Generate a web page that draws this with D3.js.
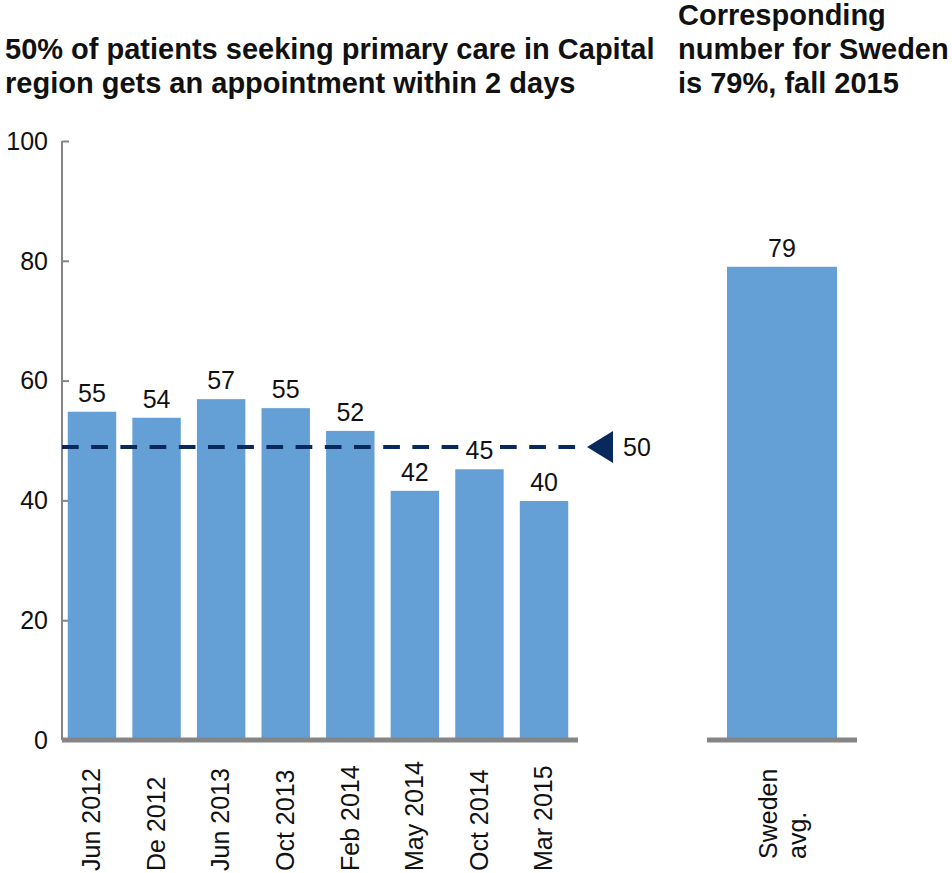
<!DOCTYPE html>
<html>
<head>
<meta charset="utf-8">
<script src="https://cdn.jsdelivr.net/npm/d3@7"></script>
<style>
  body { margin: 0; background: #fff; }
  svg { display: block; font-family: "Liberation Sans", Arial, sans-serif; }
</style>
</head>
<body>
<svg id="viz"></svg>
<script>
// data
const periods = ["Jun 2012", "De 2012", "Jun 2013", "Oct 2013", "Feb 2014", "May 2014", "Oct 2014", "Mar 2015"]
const capitalValues = [54.8, 53.8, 56.9, 55.4, 51.6, 41.6, 45.2, 39.9]
const capitalLabels = ["55", "54", "57", "55", "52", "42", "45", "40"]
const swedenCategory = ["Sweden", "avg."]
const swedenValues = [79]
const swedenLabels = ["79"]
const targetValue = 48.9
const targetLabel = "50"
const yTicks = [0, 20, 40, 60, 80, 100]
const titleLeft = ["50% of patients seeking primary care in Capital", "region gets an appointment within 2 days"]
const titleRight = ["Corresponding", "number for Sweden", "is 79%, fall 2015"]

const width = 952
const height = 873
const barColor = "#64a0d5"
const axisGray = "#858585"
const navy = "#08295c"

const svg = d3.select("#viz").attr("width", width).attr("height", height)

const y = d3.scaleLinear().domain([0, 100]).range([740, 141])

const x = d3.scaleBand()
  .domain(periods)
  .range([60, 576])
  .paddingInner(0.25)
  .paddingOuter(0.12)

const xs = d3.scaleBand()
  .domain(["Sweden avg."])
  .range([707, 857])
  .paddingOuter(0.182)

// titles
svg.append("text")
  .attr("font-size", 29)
  .attr("font-weight", "bold")
  .attr("fill", "#111")
  .selectAll("tspan")
  .data(titleLeft)
  .join("tspan")
  .attr("x", 5)
  .attr("y", (d, i) => 58.5 + i * 34)
  .text((d) => d)

svg.append("text")
  .attr("font-size", 29)
  .attr("font-weight", "bold")
  .attr("fill", "#111")
  .selectAll("tspan")
  .data(titleRight)
  .join("tspan")
  .attr("x", 678)
  .attr("y", (d, i) => 25 + i * 34)
  .text((d) => d)

// y axis, ticks pointing inward
const yAxis = svg.append("g")
  .attr("transform", "translate(62,0)")
  .call(d3.axisRight(y).tickValues(yTicks).tickSize(7).tickFormat(""))
yAxis.select(".domain").attr("stroke", axisGray).attr("stroke-width", 2).attr("d", `M0,${y(100)}V${y(0)}`)
yAxis.selectAll(".tick line").attr("stroke", axisGray).attr("stroke-width", 2)

svg.append("g")
  .selectAll("text")
  .data(yTicks)
  .join("text")
  .attr("x", 48)
  .attr("y", (d) => y(d))
  .attr("dy", "0.35em")
  .attr("text-anchor", "end")
  .attr("font-size", 25)
  .attr("fill", "#111")
  .text((d) => d)

// bars
svg.append("g")
  .selectAll("rect")
  .data(capitalValues)
  .join("rect")
  .attr("x", (d, i) => x(periods[i]))
  .attr("width", x.bandwidth())
  .attr("y", (d) => y(d))
  .attr("height", (d) => y(0) - y(d))
  .attr("fill", barColor)

svg.append("g")
  .selectAll("rect")
  .data(swedenValues)
  .join("rect")
  .attr("x", xs("Sweden avg."))
  .attr("width", xs.bandwidth())
  .attr("y", (d) => y(d))
  .attr("height", (d) => y(0) - y(d))
  .attr("fill", barColor)

// base lines
svg.append("line")
  .attr("x1", 62).attr("x2", 578)
  .attr("y1", y(0)).attr("y2", y(0))
  .attr("stroke", axisGray).attr("stroke-width", 5)

svg.append("line")
  .attr("x1", 707).attr("x2", 857)
  .attr("y1", y(0)).attr("y2", y(0))
  .attr("stroke", axisGray).attr("stroke-width", 5)

// target line with arrow
const lineEnd = 580
svg.append("line")
  .attr("x1", 62).attr("x2", lineEnd)
  .attr("y1", y(targetValue)).attr("y2", y(targetValue))
  .attr("stroke", navy)
  .attr("stroke-width", 4)
  .attr("stroke-dasharray", "16.7,12.5")

const ty = y(targetValue)
svg.append("path")
  .attr("d", `M${lineEnd + 7},${ty}L${lineEnd + 33},${ty - 16}L${lineEnd + 33},${ty + 16}Z`)
  .attr("fill", navy)

svg.append("text")
  .attr("x", 623)
  .attr("y", ty)
  .attr("dy", "0.35em")
  .attr("font-size", 25)
  .attr("fill", "#111")
  .text(targetLabel)

// value labels (white box behind so the dashed line breaks around them)
const labelG = svg.append("g")
const valueLabels = labelG.selectAll("text")
  .data(capitalValues)
  .join("text")
  .attr("x", (d, i) => x(periods[i]) + x.bandwidth() / 2)
  .attr("y", (d) => y(d) - 10)
  .attr("text-anchor", "middle")
  .attr("font-size", 25)
  .attr("fill", "#111")
  .text((d, i) => capitalLabels[i])

valueLabels.each(function () {
  const b = this.getBBox()
  labelG.insert("rect", "text")
    .attr("x", b.x - 4).attr("y", b.y + 2)
    .attr("width", b.width + 8).attr("height", b.height - 4)
    .attr("fill", "#fff")
})

svg.append("g")
  .selectAll("text")
  .data(swedenValues)
  .join("text")
  .attr("x", xs("Sweden avg.") + xs.bandwidth() / 2)
  .attr("y", (d) => y(d) - 10)
  .attr("text-anchor", "middle")
  .attr("font-size", 25)
  .attr("fill", "#111")
  .text((d, i) => swedenLabels[i])

// category labels, rotated
svg.append("g")
  .selectAll("text")
  .data(periods)
  .join("text")
  .attr("transform", (d) => `translate(${x(d) + x.bandwidth() / 2},871) rotate(-90)`)
  .attr("dy", "0.33em")
  .attr("font-size", 25)
  .attr("fill", "#111")
  .text((d) => d)

svg.append("text")
  .attr("transform", `translate(${xs("Sweden avg.") + xs.bandwidth() / 2},859) rotate(-90)`)
  .attr("font-size", 25)
  .attr("fill", "#111")
  .selectAll("tspan")
  .data(swedenCategory)
  .join("tspan")
  .attr("x", 0)
  .attr("y", (d, i) => -5 + i * 29)
  .text((d) => d)
</script>
</body>
</html>
